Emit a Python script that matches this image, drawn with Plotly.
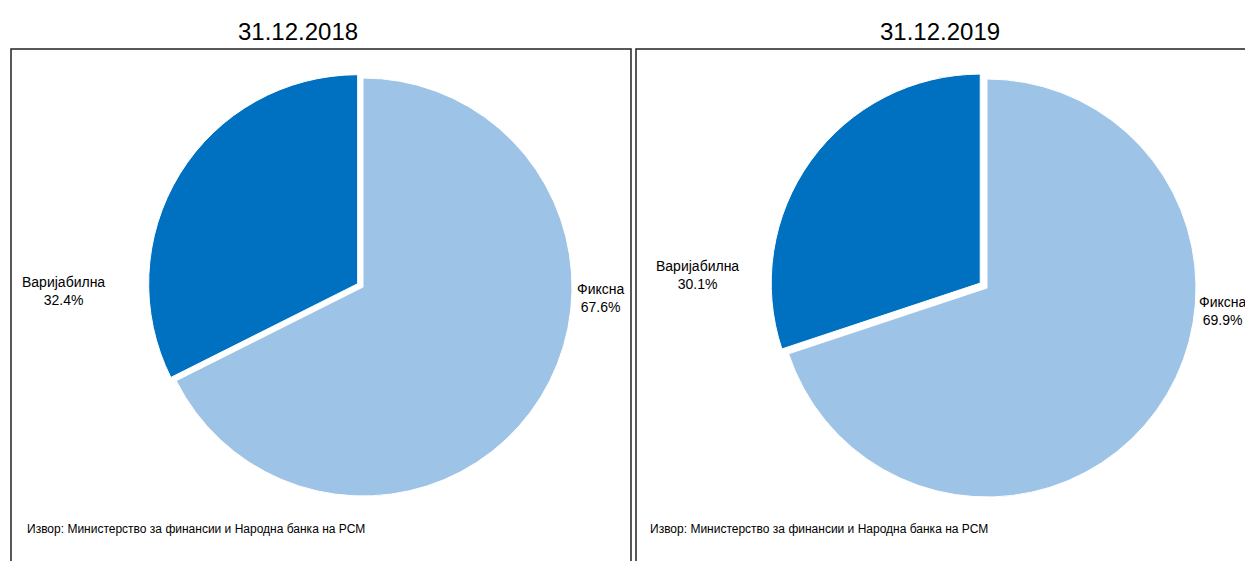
import plotly.graph_objects as go

W, H = 1245, 561

# ---- data ----
categories = ["Фиксна", "Варијабилна"]
values_2018 = [67.6, 32.4]
values_2019 = [69.9, 30.1]
titles = ["31.12.2018", "31.12.2019"]
source = "Извор: Министерство за финансии и Народна банка на РСМ"

colors = ["#9DC3E6", "#0070C0"]

def px_x(p):
    return p / W

def px_y(p):
    return 1 - p / H

fig = go.Figure()

# pie geometry (pixels): center, radius, pull
pies = [
    (values_2018, 363, 287, 209, 0.03),
    (values_2019, 987, 288, 209, 0.04),
]
for vals, cx, cy, r, pull in pies:
    half = r * (1 + pull)
    fig.add_trace(go.Pie(
        labels=categories, values=vals, sort=False, direction="clockwise",
        rotation=0, pull=[0, pull], textinfo="none", hoverinfo="label+percent",
        marker=dict(colors=colors, line=dict(color="white", width=1)),
        domain=dict(x=[px_x(cx - half - 10), px_x(cx + half + 10)],
                    y=[px_y(cy + half), px_y(cy - half)]),
        showlegend=False,
    ))

label_font = dict(family="Liberation Sans, Arial, sans-serif", size=14, color="#000")
# label positions (pixel centres)
label_pos = [
    [(600, 298), (63, 291)],
    [(1222, 311), (697, 275)],
]
for vals, poss in zip([values_2018, values_2019], label_pos):
    for cat, v, (x, y) in zip(categories, vals, poss):
        fig.add_annotation(x=px_x(x), y=px_y(y), xref="paper", yref="paper",
                           text=f"{cat}<br>{v:.1f}%", showarrow=False,
                           font=label_font, align="center",
                           xanchor="center", yanchor="middle")

title_font = dict(family="Liberation Sans Narrow, Arial Narrow, Liberation Sans, sans-serif",
                  size=24, color="#000")
for t, x in zip(titles, [298, 940]):
    fig.add_annotation(x=px_x(x), y=px_y(32), xref="paper", yref="paper",
                       text=t, showarrow=False, font=title_font,
                       xanchor="center", yanchor="middle")

src_font = dict(family="Liberation Sans Narrow, Arial Narrow, Liberation Sans, sans-serif",
                size=12, color="#000")
for x in [25, 648]:
    fig.add_annotation(x=px_x(x), y=px_y(529), xref="paper", yref="paper",
                       text=source, showarrow=False, font=src_font,
                       xanchor="left", yanchor="middle")

# panel borders
line = dict(color="#222", width=1.5)
for x0, x1 in [(11, 631), (636, 1260)]:
    fig.add_shape(type="rect", xref="paper", yref="paper",
                  x0=px_x(x0), x1=px_x(x1), y0=px_y(H + 20), y1=px_y(49),
                  line=line, fillcolor="rgba(0,0,0,0)", layer="below")

fig.update_layout(width=W, height=H, margin=dict(l=0, r=0, t=0, b=0),
                  paper_bgcolor="white", plot_bgcolor="white")

fig.write_html("out.html")
